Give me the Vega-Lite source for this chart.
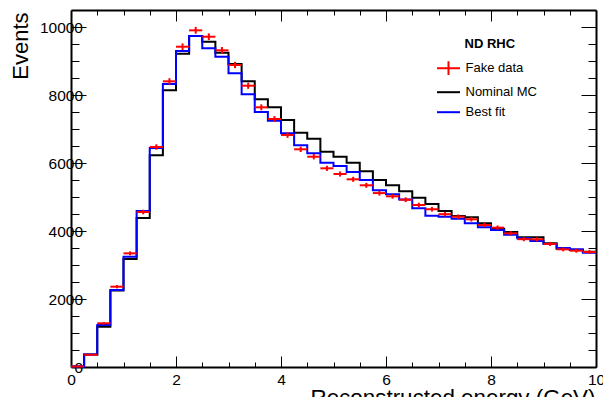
{
  "$schema": "https://vega.github.io/schema/vega-lite/v6.json",
  "width": 525,
  "height": 357,
  "autosize": {"type": "none"},
  "padding": {"left": 71, "top": 10, "right": 7, "bottom": 30},
  "background": "white",
  "config": {
    "font": "Liberation Sans",
    "view": {"stroke": null},
    "axis": {
      "grid": false,
      "domainColor": "#000000",
      "domainWidth": 2,
      "tickColor": "#000000",
      "tickWidth": 1,
      "labelColor": "#000000",
      "labelFont": "Liberation Sans",
      "labelFontSize": 15.5,
      "titleFont": "Liberation Sans",
      "titleColor": "#000000",
      "titleFontWeight": "normal"
    },
    "legend": {
      "orient": "none",
      "legendX": 365,
      "legendY": 27.7,
      "padding": 0,
      "titleFont": "Liberation Sans",
      "titleFontSize": 13,
      "titleFontWeight": "bold",
      "titleColor": "#000000",
      "titlePadding": 5,
      "labelFont": "Liberation Sans",
      "labelFontSize": 13,
      "labelColor": "#000000",
      "symbolSize": 529,
      "symbolStrokeWidth": 2,
      "symbolOpacity": 1,
      "labelOffset": 4.5,
      "rowPadding": -1.8
    }
  },
  "data": {
    "values": [
      {"lo": 0, "mid": 0.125, "hi": 0.25, "nominal": 15, "fit": 15, "data": 15, "dlo": 11, "dhi": 19},
      {"lo": 0.25, "mid": 0.375, "hi": 0.5, "nominal": 370, "fit": 370, "data": 360, "dlo": 341, "dhi": 379},
      {"lo": 0.5, "mid": 0.625, "hi": 0.75, "nominal": 1185, "fit": 1235, "data": 1285, "dlo": 1249, "dhi": 1321},
      {"lo": 0.75, "mid": 0.875, "hi": 1, "nominal": 2250, "fit": 2265, "data": 2362, "dlo": 2313, "dhi": 2411},
      {"lo": 1, "mid": 1.125, "hi": 1.25, "nominal": 3176, "fit": 3244, "data": 3343, "dlo": 3285, "dhi": 3401},
      {"lo": 1.25, "mid": 1.375, "hi": 1.5, "nominal": 4382, "fit": 4588, "data": 4559, "dlo": 4491, "dhi": 4627},
      {"lo": 1.5, "mid": 1.625, "hi": 1.75, "nominal": 6226, "fit": 6441, "data": 6470, "dlo": 6390, "dhi": 6550},
      {"lo": 1.75, "mid": 1.875, "hi": 2, "nominal": 8138, "fit": 8323, "data": 8402, "dlo": 8310, "dhi": 8494},
      {"lo": 2, "mid": 2.125, "hi": 2.25, "nominal": 9214, "fit": 9294, "data": 9420, "dlo": 9323, "dhi": 9517},
      {"lo": 2.25, "mid": 2.375, "hi": 2.5, "nominal": 9735, "fit": 9735, "data": 9902, "dlo": 9802, "dhi": 10002},
      {"lo": 2.5, "mid": 2.625, "hi": 2.75, "nominal": 9567, "fit": 9373, "data": 9714, "dlo": 9615, "dhi": 9813},
      {"lo": 2.75, "mid": 2.875, "hi": 3, "nominal": 9244, "fit": 9126, "data": 9314, "dlo": 9217, "dhi": 9411},
      {"lo": 3, "mid": 3.125, "hi": 3.25, "nominal": 8911, "fit": 8638, "data": 8882, "dlo": 8788, "dhi": 8976},
      {"lo": 3.25, "mid": 3.375, "hi": 3.5, "nominal": 8402, "fit": 8020, "data": 8273, "dlo": 8182, "dhi": 8364},
      {"lo": 3.5, "mid": 3.625, "hi": 3.75, "nominal": 7873, "fit": 7500, "data": 7638, "dlo": 7551, "dhi": 7725},
      {"lo": 3.75, "mid": 3.875, "hi": 4, "nominal": 7638, "fit": 7244, "data": 7294, "dlo": 7209, "dhi": 7379},
      {"lo": 4, "mid": 4.125, "hi": 4.25, "nominal": 7264, "fit": 6873, "data": 6823, "dlo": 6740, "dhi": 6906},
      {"lo": 4.25, "mid": 4.375, "hi": 4.5, "nominal": 6891, "fit": 6520, "data": 6403, "dlo": 6323, "dhi": 6483},
      {"lo": 4.5, "mid": 4.625, "hi": 4.75, "nominal": 6715, "fit": 6285, "data": 6185, "dlo": 6106, "dhi": 6264},
      {"lo": 4.75, "mid": 4.875, "hi": 5, "nominal": 6333, "fit": 6009, "data": 5844, "dlo": 5768, "dhi": 5920},
      {"lo": 5, "mid": 5.125, "hi": 5.25, "nominal": 6185, "fit": 5911, "data": 5676, "dlo": 5601, "dhi": 5751},
      {"lo": 5.25, "mid": 5.375, "hi": 5.5, "nominal": 6009, "fit": 5735, "data": 5520, "dlo": 5446, "dhi": 5594},
      {"lo": 5.5, "mid": 5.625, "hi": 5.75, "nominal": 5755, "fit": 5500, "data": 5344, "dlo": 5271, "dhi": 5417},
      {"lo": 5.75, "mid": 5.875, "hi": 6, "nominal": 5500, "fit": 5200, "data": 5115, "dlo": 5043, "dhi": 5187},
      {"lo": 6, "mid": 6.125, "hi": 6.25, "nominal": 5344, "fit": 5083, "data": 5020, "dlo": 4949, "dhi": 5091},
      {"lo": 6.25, "mid": 6.375, "hi": 6.5, "nominal": 5170, "fit": 4930, "data": 4920, "dlo": 4850, "dhi": 4990},
      {"lo": 6.5, "mid": 6.625, "hi": 6.75, "nominal": 4980, "fit": 4667, "data": 4764, "dlo": 4695, "dhi": 4833},
      {"lo": 6.75, "mid": 6.875, "hi": 7, "nominal": 4794, "fit": 4450, "data": 4640, "dlo": 4572, "dhi": 4708},
      {"lo": 7, "mid": 7.125, "hi": 7.25, "nominal": 4590, "fit": 4420, "data": 4495, "dlo": 4428, "dhi": 4562},
      {"lo": 7.25, "mid": 7.375, "hi": 7.5, "nominal": 4441, "fit": 4362, "data": 4421, "dlo": 4355, "dhi": 4487},
      {"lo": 7.5, "mid": 7.625, "hi": 7.75, "nominal": 4402, "fit": 4226, "data": 4344, "dlo": 4278, "dhi": 4410},
      {"lo": 7.75, "mid": 7.875, "hi": 8, "nominal": 4226, "fit": 4108, "data": 4176, "dlo": 4111, "dhi": 4241},
      {"lo": 8, "mid": 8.125, "hi": 8.25, "nominal": 4068, "fit": 4029, "data": 4098, "dlo": 4034, "dhi": 4162},
      {"lo": 8.25, "mid": 8.375, "hi": 8.5, "nominal": 3970, "fit": 3892, "data": 3932, "dlo": 3869, "dhi": 3995},
      {"lo": 8.5, "mid": 8.625, "hi": 8.75, "nominal": 3814, "fit": 3790, "data": 3760, "dlo": 3699, "dhi": 3821},
      {"lo": 8.75, "mid": 8.875, "hi": 9, "nominal": 3814, "fit": 3705, "data": 3755, "dlo": 3694, "dhi": 3816},
      {"lo": 9, "mid": 9.125, "hi": 9.25, "nominal": 3637, "fit": 3617, "data": 3620, "dlo": 3560, "dhi": 3680},
      {"lo": 9.25, "mid": 9.375, "hi": 9.5, "nominal": 3480, "fit": 3500, "data": 3461, "dlo": 3402, "dhi": 3520},
      {"lo": 9.5, "mid": 9.625, "hi": 9.75, "nominal": 3441, "fit": 3461, "data": 3421, "dlo": 3363, "dhi": 3479},
      {"lo": 9.75, "mid": 9.875, "hi": 10, "nominal": 3392, "fit": 3362, "data": 3382, "dlo": 3324, "dhi": 3440},
      {"lo": 10, "nominal": 3392, "fit": 3362}
    ]
  },
  "resolve": {"axis": {"x": "independent", "y": "independent"}},
  "layer": [
    {
      "mark": {"type": "line", "interpolate": "step-after", "strokeWidth": 2},
      "encoding": {
        "x": {
          "field": "lo", "type": "quantitative",
          "scale": {"domain": [0, 10], "nice": false, "zero": false},
          "axis": {
            "orient": "bottom", "values": [0, 2, 4, 6, 8, 10], "tickSize": -11,
            "labelPadding": 16, "labelFlush": false, "labelOverlap": false, "format": "d",
            "title": "Reconstructed energy (GeV)", "titleFontSize": 22.4,
            "titleAnchor": "end", "titleAlign": "right", "titleX": 524, "titleY": 37,
            "titleBaseline": "alphabetic"
          }
        },
        "y": {
          "field": "nominal", "type": "quantitative",
          "scale": {"domain": [0, 10500], "nice": false},
          "axis": {
            "orient": "left", "values": [0, 2000, 4000, 6000, 8000, 10000], "tickSize": -15,
            "labelPadding": 3.5, "labelOverlap": false, "format": "d",
            "title": "Events", "titleFontSize": 22, "titleAngle": -90,
            "titleAnchor": "end", "titleAlign": "right", "titleX": -44, "titleY": 2,
            "titleBaseline": "alphabetic"
          }
        },
        "color": {
          "datum": "Nominal MC", "type": "nominal",
          "scale": {"domain": ["Fake data", "Nominal MC", "Best fit"], "range": ["#ff0000", "#000000", "#0000ff"]},
          "legend": {"title": "ND RHC", "encode": {"title": {"update": {"dx": {"value": 28.5}}}}}
        }
      }
    },
    {
      "mark": {"type": "line", "interpolate": "step-after", "strokeWidth": 2},
      "encoding": {
        "x": {
          "field": "lo", "type": "quantitative",
          "axis": {"orient": "bottom", "values": [0.5, 1, 1.5, 2.5, 3, 3.5, 4.5, 5, 5.5, 6.5, 7, 7.5, 8.5, 9, 9.5], "tickSize": -5, "labels": false, "domain": false, "title": null}
        },
        "y": {
          "field": "fit", "type": "quantitative",
          "axis": {"orient": "left", "values": [500, 1000, 1500, 2500, 3000, 3500, 4500, 5000, 5500, 6500, 7000, 7500, 8500, 9000, 9500], "tickSize": -8, "labels": false, "domain": false, "title": null}
        },
        "color": {"datum": "Best fit", "type": "nominal", "legend": {"title": "ND RHC"}}
      }
    },
    {
      "mark": {"type": "rule", "strokeWidth": 2},
      "encoding": {
        "x": {
          "field": "lo", "type": "quantitative",
          "axis": {"orient": "top", "values": [0, 2, 4, 6, 8, 10], "tickSize": -11, "labels": false, "title": null}
        },
        "x2": {"field": "hi"},
        "y": {
          "field": "data", "type": "quantitative",
          "axis": {"orient": "right", "values": [0, 2000, 4000, 6000, 8000, 10000], "tickSize": -15, "labels": false, "title": null}
        },
        "color": {"datum": "Fake data", "type": "nominal", "legend": {"title": "ND RHC"}}
      }
    },
    {
      "mark": {"type": "rule", "strokeWidth": 2},
      "encoding": {
        "x": {
          "field": "mid", "type": "quantitative",
          "axis": {"orient": "top", "values": [0.5, 1, 1.5, 2.5, 3, 3.5, 4.5, 5, 5.5, 6.5, 7, 7.5, 8.5, 9, 9.5], "tickSize": -5, "labels": false, "domain": false, "title": null}
        },
        "y": {
          "field": "dlo", "type": "quantitative",
          "axis": {"orient": "right", "values": [500, 1000, 1500, 2500, 3000, 3500, 4500, 5000, 5500, 6500, 7000, 7500, 8500, 9000, 9500], "tickSize": -8, "labels": false, "domain": false, "title": null}
        },
        "y2": {"field": "dhi"},
        "color": {"datum": "Fake data", "type": "nominal", "legend": {"title": "ND RHC"}}
      }
    },
    {
      "mark": {"type": "point", "filled": false, "opacity": 0},
      "encoding": {
        "x": {"field": "mid", "type": "quantitative", "axis": null},
        "y": {"field": "data", "type": "quantitative", "axis": null},
        "color": {"datum": "Fake data", "type": "nominal", "legend": {"title": "ND RHC"}},
        "shape": {
          "datum": "Fake data", "type": "nominal",
          "scale": {"domain": ["Fake data", "Nominal MC", "Best fit"], "range": ["M-1,0H1M0,-0.6V0.6", "M-1,0H1", "M-1,0H1"]},
          "legend": {"title": "ND RHC"}
        }
      }
    }
  ]
}
